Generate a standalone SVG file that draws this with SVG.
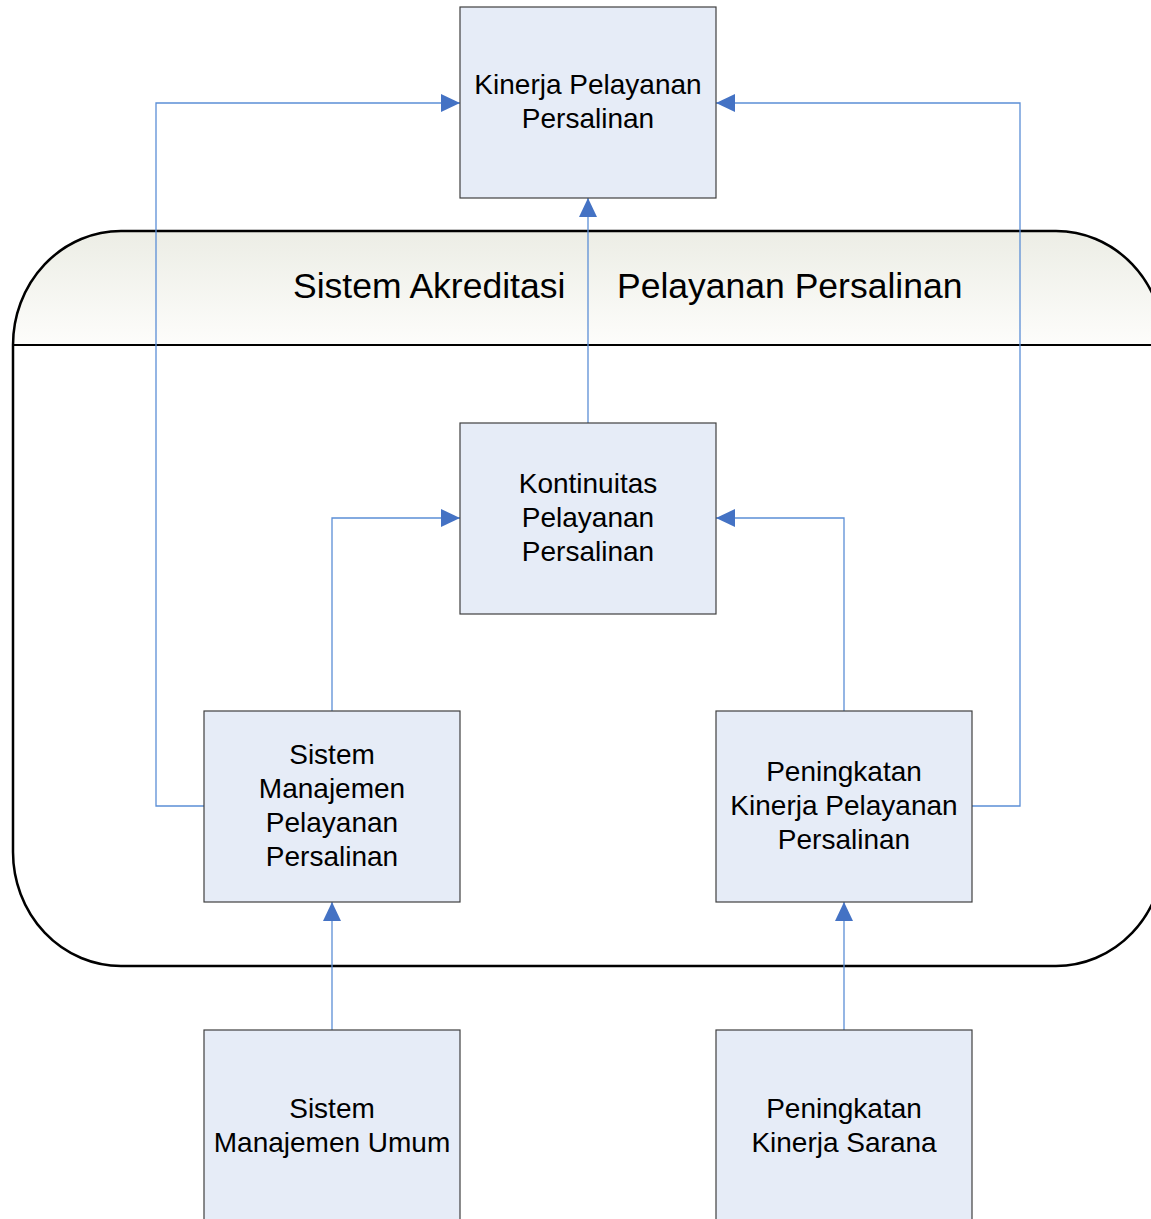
<svg xmlns="http://www.w3.org/2000/svg" width="1151" height="1219" viewBox="0 0 1151 1219">
<defs>
<linearGradient id="hdr" gradientUnits="userSpaceOnUse" x1="0" y1="231" x2="0" y2="345">
<stop offset="0" stop-color="#ECEDE5"/>
<stop offset="1" stop-color="#FDFDFB"/>
</linearGradient>
<clipPath id="hclip"><rect x="0" y="0" width="1200" height="345"/></clipPath>
<marker id="ah" markerWidth="19" markerHeight="18" refX="19" refY="9" orient="auto" markerUnits="userSpaceOnUse">
<path d="M0,0 L19,9 L0,18 Z" fill="#4472C4"/>
</marker>
</defs>
<style>
.box{fill:#E6ECF7;stroke:#404040;stroke-width:1.2}
.t{font-family:"Liberation Sans",Arial,sans-serif;font-size:28px;fill:#000;text-anchor:middle}
.h{font-family:"Liberation Sans",Arial,sans-serif;font-size:35.5px;fill:#000}
.c{fill:none;stroke:#5B8ED6;stroke-width:1.3}
</style>
<rect width="1151" height="1219" fill="#fff"/>
<g id="container">
<rect x="13" y="231" width="1151" height="735" rx="108" ry="114" fill="#fff"/>
<rect x="13" y="231" width="1151" height="735" rx="108" ry="114" fill="url(#hdr)" clip-path="url(#hclip)"/>
<rect x="13" y="231" width="1151" height="735" rx="108" ry="114" fill="none" stroke="#000" stroke-width="2.5"/>
<line x1="13" y1="345" x2="1164" y2="345" stroke="#000" stroke-width="2"/>
<text class="h" y="298"><tspan x="293">Sistem Akreditasi</tspan><tspan x="617">Pelayanan Persalinan</tspan></text>
</g>
<g id="connectors">
<path class="c" d="M204,806 H156 V103 H460" marker-end="url(#ah)"/>
<path class="c" d="M972,806 H1020 V103 H716" marker-end="url(#ah)"/>
<path class="c" d="M588,423 V198" marker-end="url(#ah)"/>
<path class="c" d="M332,711 V518 H460" marker-end="url(#ah)"/>
<path class="c" d="M844,711 V518 H716" marker-end="url(#ah)"/>
<path class="c" d="M332,1030 V902" marker-end="url(#ah)"/>
<path class="c" d="M844,1030 V902" marker-end="url(#ah)"/>
</g>
<g id="kinerja">
<rect class="box" x="460" y="7" width="256" height="191"/>
<text class="t" x="588" y="94">Kinerja Pelayanan</text>
<text class="t" x="588" y="128">Persalinan</text>
</g>
<g id="kontinuitas">
<rect class="box" x="460" y="423" width="256" height="191"/>
<text class="t" x="588" y="493">Kontinuitas</text>
<text class="t" x="588" y="527">Pelayanan</text>
<text class="t" x="588" y="561">Persalinan</text>
</g>
<g id="smp">
<rect class="box" x="204" y="711" width="256" height="191"/>
<text class="t" x="332" y="764">Sistem</text>
<text class="t" x="332" y="798">Manajemen</text>
<text class="t" x="332" y="832">Pelayanan</text>
<text class="t" x="332" y="866">Persalinan</text>
</g>
<g id="pkp">
<rect class="box" x="716" y="711" width="256" height="191"/>
<text class="t" x="844" y="781">Peningkatan</text>
<text class="t" x="844" y="815">Kinerja Pelayanan</text>
<text class="t" x="844" y="849">Persalinan</text>
</g>
<g id="smu">
<rect class="box" x="204" y="1030" width="256" height="200"/>
<text class="t" x="332" y="1118">Sistem</text>
<text class="t" x="332" y="1152">Manajemen Umum</text>
</g>
<g id="pks">
<rect class="box" x="716" y="1030" width="256" height="200"/>
<text class="t" x="844" y="1118">Peningkatan</text>
<text class="t" x="844" y="1152">Kinerja Sarana</text>
</g>
</svg>
